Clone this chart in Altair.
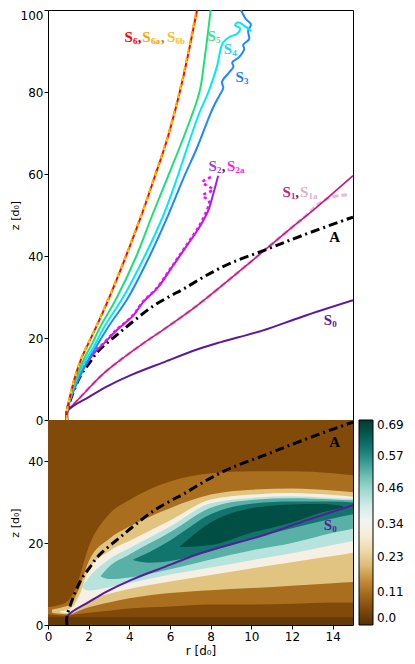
import altair as alt
import pandas as pd

# ---------------- curves (r and z in units of d0) ----------------
S6_R = [0.93, 0.93, 1.05, 1.30, 1.64, 1.94, 2.40, 2.91, 3.75, 4.60, 5.24, 5.88, 6.60, 7.33]
S6_Z = [0, 2, 5, 10, 15, 18.2, 23, 28.7, 38.9, 50, 59.2, 68.8, 82.5, 100]
S6A_R = [0.93, 0.93, 1.04, 1.29, 1.62, 1.92, 2.38, 2.89, 3.73, 4.58, 5.22, 5.86, 6.58, 7.30]
S6A_Z = [0, 2, 5, 10, 15, 18.2, 23, 28.7, 38.9, 50, 59.2, 68.8, 82.5, 100]
S6B_R = [0.93, 0.93, 1.05, 1.31, 1.65, 1.95, 2.42, 2.93, 3.77, 4.62, 5.26, 5.90, 6.62, 7.36]
S6B_Z = [0, 2, 5, 10, 15, 18.2, 23, 28.7, 38.9, 50, 59.2, 68.8, 82.5, 100]
S5_R = [0.93, 0.93, 1.06, 1.38, 1.78, 2.13, 2.60, 3.35, 4.35, 5.13, 5.95, 6.75, 7.45, 7.68, 8.00]
S5_Z = [0, 2, 5, 10, 15, 18.2, 23, 29.5, 40, 50, 60, 70, 80, 87.3, 100]
S4_R = [0.93, 0.93, 1.08, 1.41, 1.90, 2.29, 2.80, 3.70, 4.76, 5.68, 6.36, 6.95, 7.45, 7.89, 8.30, 8.60,
        8.95, 9.30, 9.45, 9.20, 9.35, 9.70, 10.00]
S4_Z = [0, 2, 5, 10, 15, 18.2, 23, 30, 40, 50, 59.2, 68, 75, 80, 86, 92,
        93.5, 94.2, 95.5, 96.3, 97, 96, 94.8]
S3_R = [0.93, 0.93, 1.10, 1.51, 2.02, 2.41, 3.00, 3.90, 5.00, 5.88, 6.68, 7.33, 7.97, 8.20, 8.45, 8.62,
        8.56, 8.93, 9.12, 9.06, 9.40, 9.65, 9.60, 9.89, 9.84, 9.98, 9.73, 9.57, 9.49]
S3_Z = [0, 2, 5, 10, 15, 18.2, 23, 29.5, 40, 49.6, 59.2, 66.4, 74.5, 77, 79.3, 81,
        82.5, 84.9, 86.2, 87.2, 88.5, 90.5, 91.5, 92.9, 94.9, 96.5, 97.8, 99.2, 100]
S2_R = [0.93, 0.93, 1.12, 1.57, 2.00, 2.35, 2.65, 3.40, 4.20, 4.67, 5.40, 6.10, 6.84, 7.49, 7.89, 8.13, 8.37]
S2_Z = [0, 2, 5.5, 11, 14.5, 16.8, 18.2, 22, 25.5, 28.7, 32.3, 37.3, 42.6, 47.4, 51.2, 55.2, 59.6]
S2A_R = [0.93, 0.93, 1.10, 1.54, 1.97, 2.32, 2.62, 3.37, 4.17, 4.64, 5.37, 6.07, 6.80, 7.44, 7.75, 7.92,
         7.62, 8.10, 7.60, 8.05]
S2A_Z = [0, 2, 5.5, 11, 14.5, 16.8, 18.2, 22, 25.5, 28.7, 32.3, 37.3, 42.6, 47.4, 50.5, 53.3,
         54.8, 56.2, 58, 59.3]
S1_R = [0.93, 0.93, 1.30, 1.94, 2.70, 3.55, 4.60, 5.64, 7.33, 8.93, 10.0, 12.0, 13.0, 15.0]
S1_Z = [0, 2, 4, 7.4, 11.2, 14.6, 18.4, 21.9, 27.9, 34.3, 38.7, 47.0, 51.0, 59.6]
S1A_R = [0.93, 0.93, 1.30, 1.94, 2.70, 3.55, 4.60, 5.64, 7.33, 8.93, 10.0, 12.0, 12.7, 13.3, 13.9, 14.7]
S1A_Z = [0, 2, 4, 7.4, 11.2, 14.6, 18.4, 21.9, 27.9, 34.3, 38.7, 47.0, 49.9, 52.6, 54.3, 54.9]
A_R = [0.93, 0.93, 1.14, 1.62, 2.05, 2.43, 3.00, 3.55, 4.30, 5.20, 6.00, 6.68, 7.80, 9.00, 10.7, 12.5, 15.0]
A_Z = [0, 2, 5.4, 11, 14, 16.6, 19.2, 21.4, 24.5, 27.9, 30.2, 32, 35.3, 38.3, 41.5, 45, 49.5]
S0_R = [0.93, 0.93, 1.30, 1.94, 2.91, 4.10, 5.64, 7.33, 8.50, 10.54, 12.5, 15.0]
S0_Z = [0, 2, 3.6, 5.4, 8.2, 11.0, 14.0, 17.2, 19.0, 21.8, 25.2, 29.2]

# ---------------- curve labels (top panel) ----------------
LBL_TEXT = ["S", "6", ",", "S", "6a", ",", "S", "6b", "S", "5", "S", "4", "S", "3",
            "S", "2", ",", "S", "2a", "S", "1", ",", "S", "1a", "A", "S", "0"]
LBL_R = [3.76, 4.18, 4.42, 4.64, 5.06, 5.56, 5.85, 6.27, 7.84, 8.26, 8.64, 9.06, 9.22, 9.64,
         7.89, 8.31, 8.55, 8.80, 9.22, 11.53, 11.95, 12.16, 12.39, 12.81, 13.83, 13.56, 13.98]
LBL_Z = [92.1, 92.1, 92.1, 92.1, 92.1, 92.1, 92.1, 92.1, 92.5, 92.5, 89.3, 89.3, 82.5, 82.5,
         60.8, 60.8, 60.8, 60.8, 60.8, 54.4, 54.4, 54.4, 54.4, 54.4, 43.5, 23.1, 23.1]
LBL_SUB = [0, 1, 0, 0, 1, 0, 0, 1, 0, 1, 0, 1, 0, 1, 0, 1, 0, 0, 1, 0, 1, 0, 0, 1, 0, 0, 1]
LBL_COLOR = ["#ff0000", "#ff0000", "#cc0000", "#ffa500", "#ffa500", "#cc8400", "#f2c12e", "#f2c12e",
             "#3ee08e", "#3ee08e", "#22d8ee", "#22d8ee", "#1e7ff0", "#1e7ff0",
             "#9a3ff0", "#9a3ff0", "#333333", "#ff1fe0", "#ff1fe0",
             "#c8207f", "#c8207f", "#553355", "#d7b4d7", "#d7b4d7", "#000000", "#5a1a9c", "#5a1a9c"]

# bottom panel labels
BLBL_TEXT = ["A", "S", "0"]
BLBL_R = [13.83, 13.56, 13.98]
BLBL_Z = [43.3, 23.1, 23.1]
BLBL_SUB = [0, 0, 1]
BLBL_COLOR = ["#000000", "#5a1a9c", "#5a1a9c"]

# ---------------- field in the bottom panel: bands of one level (lower / upper edge in z) ----------------
BAND_LEVEL = [0.055, 0.02, 0.11, 0.21, 0.32, 0.43, 0.52, 0.60, 0.66]
BG_R, BG_LO, BG_HI = [0, 15], [0, 0], [50, 50]
ST_R, ST_LO, ST_HI = [0, 15], [0, 0], [1.9, 1.9]
B1_R = [0.0, 0.5, 1.0, 1.4, 2.0, 3.0, 4.0, 6.0, 8.0, 10.0, 12.0, 14.0, 15.0]
B1_LO = [2.6, 2.4, 2.3, 2.6, 3.0, 3.5, 4.0, 4.5, 5.0, 5.0, 5.2, 5.5, 5.5]
B1_HI = [4.4, 4.8, 6.0, 9.5, 19.0, 27.0, 30.5, 35.0, 37.0, 37.5, 37.5, 37.0, 36.5]
B2_R = [0.2, 0.7, 1.1, 1.5, 2.0, 3.0, 4.0, 6.0, 8.0, 10.0, 12.0, 14.0, 15.0]
B2_LO = [3.0, 2.7, 2.6, 3.4, 4.3, 5.5, 6.5, 7.8, 8.5, 9.0, 9.6, 10.2, 10.5]
B2_HI = [3.8, 4.3, 5.2, 8.5, 15.5, 21.0, 24.0, 28.5, 31.8, 33.0, 33.3, 32.8, 32.4]
B3_R = [0.6, 1.0, 1.3, 1.6, 2.0, 3.0, 4.0, 6.0, 8.0, 10.0, 12.0, 14.0, 15.0]
B3_LO = [3.1, 2.8, 3.2, 4.6, 6.0, 7.6, 8.8, 10.6, 12.2, 13.8, 15.3, 16.8, 17.6]
B3_HI = [3.4, 3.8, 5.0, 8.0, 13.5, 18.0, 20.5, 25.5, 30.6, 31.8, 32.2, 31.7, 31.3]
B4_R = [1.7, 2.0, 3.0, 4.0, 6.0, 8.0, 10.0, 12.0, 14.0, 15.0]
B4_LO = [9.0, 8.4, 9.2, 10.2, 12.3, 14.0, 15.8, 17.5, 19.5, 20.5]
B4_HI = [9.3, 11.5, 16.0, 18.7, 24.0, 29.7, 31.0, 31.4, 31.0, 30.8]
B5_R = [2.6, 3.0, 4.0, 6.0, 8.0, 10.0, 12.0, 14.0, 15.0]
B5_LO = [11.8, 11.2, 11.6, 13.6, 16.0, 18.2, 20.0, 22.5, 23.5]
B5_HI = [12.0, 14.2, 17.2, 22.6, 28.6, 30.5, 30.9, 30.6, 30.4]
B6_R = [4.2, 5.0, 6.0, 8.0, 10.0, 12.0, 14.0, 15.0]
B6_LO = [15.8, 15.2, 15.6, 18.0, 21.0, 23.6, 26.0, 27.0]
B6_HI = [16.0, 17.8, 20.6, 27.0, 29.6, 30.1, 30.1, 29.9]
B7_R = [6.5, 8.0, 10.0, 12.0, 13.5, 14.5]
B7_LO = [19.0, 19.5, 22.5, 25.0, 27.5, 28.6]
B7_HI = [19.2, 25.0, 28.5, 29.4, 29.5, 29.0]

# colour bar: brown - white - teal, 0 ... 0.69
CMAP_STOPS = [0.0, 0.069, 0.138, 0.207, 0.276, 0.345, 0.414, 0.483, 0.552, 0.621, 0.69]
CMAP_COLORS = ["#543005", "#8c510a", "#bf812d", "#dfc27d", "#f6e8c3", "#f5f5f5",
               "#c7eae5", "#80cdc1", "#35978f", "#01665e", "#003c30"]
CBAR_VALUES = [0.0, 0.11, 0.23, 0.34, 0.46, 0.57, 0.69]

# ---------------- layout ----------------
W, HT, HB = 305, 410, 205
MAJ_X = [0, 2, 4, 6, 8, 10, 12, 14]


# ---------------- tables ----------------
def curve(name, rs, zs):
    return pd.DataFrame({"curve": name, "r": rs, "z": zs, "i": list(range(len(rs)))})


curves = pd.concat([
    curve("S6", S6_R, S6_Z), curve("S6a", S6A_R, S6A_Z), curve("S6b", S6B_R, S6B_Z),
    curve("S5", S5_R, S5_Z), curve("S4", S4_R, S4_Z), curve("S3", S3_R, S3_Z),
    curve("S2", S2_R, S2_Z), curve("S2a", S2A_R, S2A_Z), curve("S1", S1_R, S1_Z),
    curve("S1a", S1A_R, S1A_Z), curve("A", A_R, A_Z), curve("S0", S0_R, S0_Z),
], ignore_index=True)

labels = pd.DataFrame({"r": LBL_R, "z": LBL_Z, "t": LBL_TEXT, "sub": LBL_SUB, "col": LBL_COLOR})
blabels = pd.DataFrame({"r": BLBL_R, "z": BLBL_Z, "t": BLBL_TEXT, "sub": BLBL_SUB, "col": BLBL_COLOR})

band_src = [(BG_R, BG_LO, BG_HI), (ST_R, ST_LO, ST_HI), (B1_R, B1_LO, B1_HI), (B2_R, B2_LO, B2_HI),
            (B3_R, B3_LO, B3_HI), (B4_R, B4_LO, B4_HI), (B5_R, B5_LO, B5_HI), (B6_R, B6_LO, B6_HI),
            (B7_R, B7_LO, B7_HI)]
bands = [pd.DataFrame({"r": r, "lo": lo, "hi": hi, "level": lev})
         for lev, (r, lo, hi) in zip(BAND_LEVEL, band_src)]

# ---------------- styles ----------------
STYLE = {
    "S1a": dict(color="#dcc0dc", strokeWidth=3.2, strokeDash=[6, 3]),
    "S1": dict(color="#c71585", strokeWidth=1.5),
    "S0": dict(color="#5a1a9c", strokeWidth=2),
    "A": dict(color="black", strokeWidth=3, strokeDash=[9, 4, 2, 4]),
    "S2": dict(color="#a020f0", strokeWidth=2),
    "S2a": dict(color="#ff00ff", strokeWidth=2.5, strokeDash=[3, 3]),
    "S3": dict(color="#1e88ff", strokeWidth=2),
    "S4": dict(color="#00e8ff", strokeWidth=2),
    "S5": dict(color="#1ee07a", strokeWidth=2),
    "S6": dict(color="#ff0000", strokeWidth=2),
    "S6a": dict(color="#ffa500", strokeWidth=2, strokeDash=[5, 4]),
    "S6b": dict(color="#ffd700", strokeWidth=2, strokeDash=[2, 7]),
}
TOP_ORDER = ["S1a", "S1", "S0", "A", "S2", "S2a", "S3", "S4", "S5", "S6", "S6a", "S6b"]

xs = alt.Scale(domain=[0, 15], nice=False, zero=False)
yst = alt.Scale(domain=[0, 100], nice=False, zero=False)
ysb = alt.Scale(domain=[0, 50], nice=False, zero=False)
cscale = alt.Scale(domain=CMAP_STOPS, range=CMAP_COLORS, interpolate="rgb")

ORIGIN = pd.DataFrame({"r": [0], "z": [0]})


def carrier(ys, xaxis, yaxis):
    return alt.Chart(ORIGIN).mark_point(opacity=0, size=1).encode(
        x=alt.X("r:Q", scale=xs, axis=xaxis),
        y=alt.Y("z:Q", scale=ys, axis=yaxis))


def line_layer(name, ys):
    return alt.Chart(curves).transform_filter(alt.datum.curve == name).mark_line(
        clip=True, interpolate="catmull-rom", **STYLE[name]).encode(
        x=alt.X("r:Q", scale=xs, axis=None),
        y=alt.Y("z:Q", scale=ys, axis=None),
        order="i:Q")


def text_layers(df, ys):
    big = alt.Chart(df).transform_filter(alt.datum.sub == 0).mark_text(
        align="left", baseline="alphabetic", font="Liberation Serif", fontWeight="bold",
        fontSize=15).encode(
        x=alt.X("r:Q", scale=xs, axis=None), y=alt.Y("z:Q", scale=ys, axis=None),
        text="t:N", color=alt.Color("col:N", scale=None))
    small = alt.Chart(df).transform_filter(alt.datum.sub == 1).mark_text(
        align="left", baseline="alphabetic", font="Liberation Serif", fontWeight="bold",
        fontSize=9, dy=2).encode(
        x=alt.X("r:Q", scale=xs, axis=None), y=alt.Y("z:Q", scale=ys, axis=None),
        text="t:N", color=alt.Color("col:N", scale=None))
    return [big, small]


TICKS = dict(ticks=True, tickSize=4, tickColor="black", tickWidth=1, domain=False, grid=False,
             labelFlush=False)

# ---------------- top panel ----------------
ylab_top = alt.Axis(orient="left", values=[0, 20, 40, 60, 80], labelPadding=1,
                    title="z [d₀]", titleX=-28, titleY=HT / 2, titleAngle=270, titleBaseline="bottom",
                    titleAlign="center", titleFontSize=11, **TICKS)
ylab_100 = alt.Axis(orient="left", values=[100], labelPadding=1, labelBaseline="top", title=None,
                    **TICKS)

top_layers = ([line_layer(n, yst) for n in TOP_ORDER] + text_layers(labels, yst)
              + [carrier(yst, None, ylab_top), carrier(yst, None, ylab_100)])
top = alt.layer(*top_layers).resolve_axis(x="independent", y="independent").properties(
    width=W, height=HT)

# ---------------- bottom panel ----------------
legend = alt.Legend(type="gradient", orient="right", offset=6, padding=0, gradientLength=HB,
                    gradientThickness=14, gradientStrokeColor="black", gradientStrokeWidth=1,
                    values=CBAR_VALUES,
                    labelExpr="datum.value == 0 ? '0.0' : format(datum.value, '.2f')",
                    labelFont="DejaVu Sans", labelFontSize=12, labelColor="black", labelOffset=4,
                    labelBaseline="middle", labelOverlap=False, title=None, direction="vertical")

band_layers = [alt.Chart(b).mark_area(interpolate="monotone", clip=True).encode(
    x=alt.X("r:Q", scale=xs, axis=None),
    y=alt.Y("lo:Q", scale=ysb, axis=None),
    y2="hi:Q",
    color=alt.Color("level:Q", scale=cscale, legend=legend)) for b in bands]

xlab_bot = alt.Axis(orient="bottom", values=MAJ_X, labelPadding=2, title="r [d₀]", titlePadding=3,
                    **TICKS)
ylab_bot = alt.Axis(orient="left", values=[0, 20, 40], labelPadding=1,
                    title="z [d₀]", titleX=-28, titleY=HB / 2, titleAngle=270, titleBaseline="bottom",
                    titleAlign="center", titleFontSize=11, **TICKS)

bot_layers = (band_layers + [line_layer("S0", ysb), line_layer("A", ysb)]
              + text_layers(blabels, ysb) + [carrier(ysb, xlab_bot, ylab_bot)])
bottom = alt.layer(*bot_layers).resolve_axis(x="independent", y="independent").properties(
    width=W, height=HB)

chart = alt.vconcat(top, bottom, spacing=0).resolve_scale(color="independent").properties(
    bounds="flush", padding=0).configure_view(stroke="black", strokeWidth=1).configure_axis(
    labelFont="DejaVu Sans", titleFont="DejaVu Sans", labelFontSize=12, titleFontSize=12,
    titleFontWeight="normal", labelColor="black", titleColor="black")

chart.save("out.html", embed_options={"renderer": "svg", "actions": False})
